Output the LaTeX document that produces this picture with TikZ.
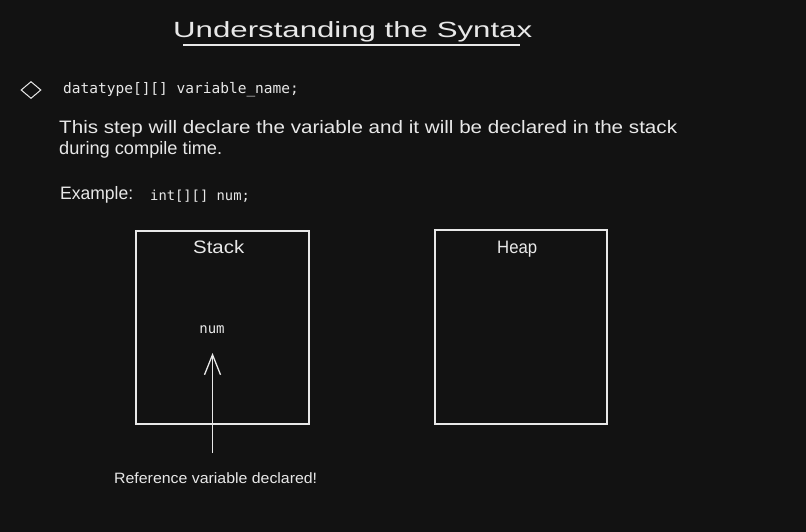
\documentclass[tikz,border=0pt]{standalone}
\usepackage{fontspec}
\usepackage{graphicx}
\setmainfont{Liberation Sans}
\newfontfamily\codefont{DejaVu Sans Mono}
\usetikzlibrary{arrows.meta,shapes.geometric}
\definecolor{bgc}{HTML}{121212}
\definecolor{ink}{HTML}{E8E8E8}
\newcommand{\fitw}[2]{\resizebox{#1}{\height}{#2}}
\tikzset{
  hand/.style={text=ink, inner sep=0pt, font=\fontsize{18}{21}\selectfont},
  code/.style={text=ink, inner sep=0pt, font=\codefont\fontsize{14.5}{17}\selectfont},
  memory/.style={draw=ink, line width=1.3pt},
  conn/.style={draw=ink, line width=1.3pt, -{Straight Barb[length=20pt,width=16pt,line width=1.3pt]}}
}
\begin{document}
\begin{tikzpicture}[x=1pt,y=-1pt]
\fill[bgc] (0,0) rectangle (806,532);
\useasboundingbox (0,0) rectangle (806,532);
% title
\node[hand, font=\fontsize{22}{26}\selectfont, anchor=base west] (title) at (173,38) {\fitw{359pt}{Understanding the Syntax}};
\coordinate (ulA) at (183,45);
\coordinate (ulB) at (520,45);
\draw[ink, line width=1.3pt] (ulA) -- (ulB);
% bullet
\node[diamond, draw=ink, line width=1pt, minimum width=20pt, minimum height=17pt, inner sep=0pt] (bullet) at (31,90) {};
\node[code, anchor=west] (syntax) at (63,90) {datatype[][] variable\_name;};
% paragraph
\node[hand, anchor=base west] (p1) at (59,134) {\fitw{618pt}{This step will declare the variable and it will be declared in the stack}};
\node[hand, anchor=base west] (p2) at (59,155) {\fitw{163pt}{during compile time.}};
\node[hand, anchor=base west] (ex) at (60,200) {\fitw{73pt}{Example:}};
\node[code, anchor=west, font=\codefont\fontsize{13.8}{16}\selectfont] (excode) at (150,196) {int[][] num;};
% boxes
\node[memory, minimum width=173pt, minimum height=193pt, inner sep=0pt] (stack) at (222.5,327.5) {};
\node[memory, minimum width=172pt, minimum height=194pt, inner sep=0pt] (heap) at (521,327) {};
\node[hand, anchor=base west] (stacklbl) at (193,253) {\fitw{51pt}{Stack}};
\node[hand, anchor=base west] (heaplbl) at (497,253) {\fitw{40pt}{Heap}};
\node[code, font=\codefont\fontsize{14}{16}\selectfont] (num) at (212,330) {num};
% arrow
\coordinate (arrStart) at (212.5,453);
\coordinate (arrEnd) at (212.5,353);
\draw[conn] (arrStart) -- (arrEnd);
\node[hand, anchor=base west, font=\fontsize{15}{18}\selectfont] (ref) at (114,483) {\fitw{203pt}{Reference variable declared!}};
\end{tikzpicture}
\end{document}
